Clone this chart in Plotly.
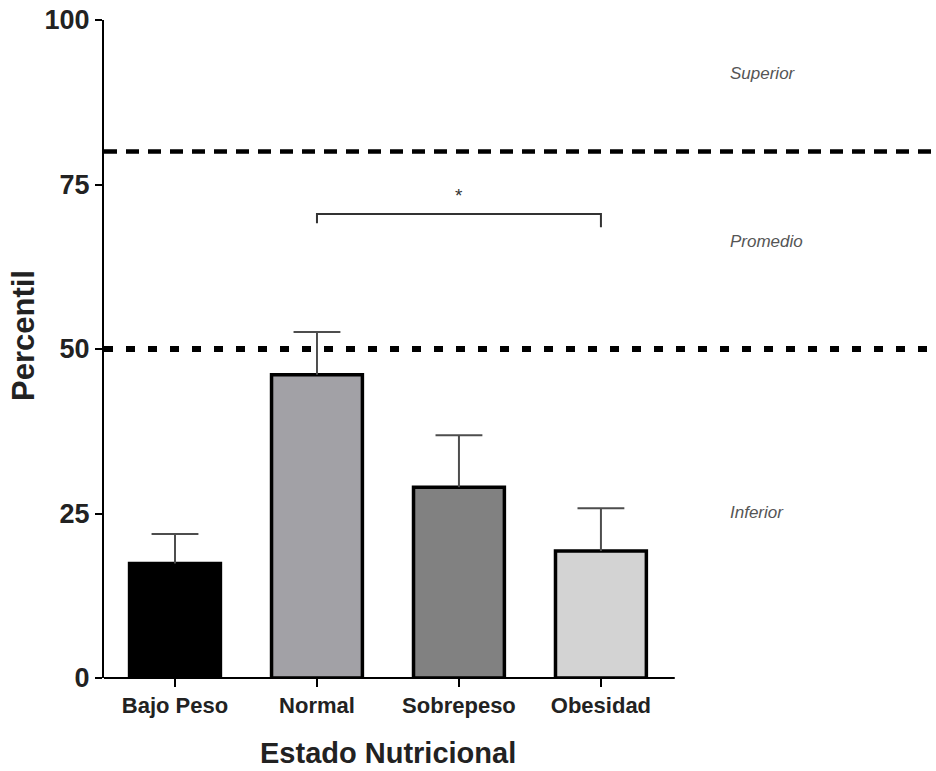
import plotly.graph_objects as go

# Percentile by nutritional status (mean with upper SEM whisker)
categories = ["Bajo Peso", "Normal", "Sobrepeso", "Obesidad"]
means = [17.4, 46.1, 29.0, 19.3]
upper_err = [4.5, 6.5, 7.9, 6.5]
bar_colors = ["#000000", "#a2a1a6", "#818181", "#d3d3d3"]

y_ticks = [0, 25, 50, 75, 100]
upper_cut = 80   # limit between "Promedio" and "Superior"
lower_cut = 50   # limit between "Inferior" and "Promedio"
zone_labels = ["Superior", "Promedio", "Inferior"]
zone_label_y = [91.9, 66.3, 25.1]

# significance bracket between Normal and Obesidad
sig_pair = (1, 3)
sig_level = 70.5
sig_text = "*"

FONT = "Liberation Sans, Arial, sans-serif"
TXT = "#222222"
CAP_HALF = 0.165  # half width of the whisker cap, in category units

x_idx = list(range(len(categories)))

fig = go.Figure()
fig.add_trace(go.Bar(
    x=x_idx,
    y=means,
    width=0.64,
    marker=dict(color=bar_colors, line=dict(color="#000000", width=3.5)),
    showlegend=False,
    hoverinfo="skip",
))

# upper whiskers: stem from the bar top to mean+err, then a horizontal cap
wx, wy = [], []
for i, (m, e) in enumerate(zip(means, upper_err)):
    top = m + e
    wx += [i, i, None, i - CAP_HALF, i + CAP_HALF, None]
    wy += [m, top, None, top, top, None]
fig.add_trace(go.Scatter(
    x=wx, y=wy, mode="lines",
    line=dict(color="#4d4d4d", width=2),
    showlegend=False, hoverinfo="skip",
))

shapes = [
    # dashed cut-off at the 80th percentile
    dict(type="line", xref="paper", yref="y", x0=0, x1=1,
         y0=upper_cut, y1=upper_cut, line=dict(color="#000000", width=4.5, dash="13px,9px"),
         layer="above"),
    # dotted cut-off at the 50th percentile
    dict(type="line", xref="paper", yref="y", x0=0, x1=1,
         y0=lower_cut, y1=lower_cut, line=dict(color="#000000", width=6, dash="9px,13px"),
         layer="above"),
    # x-axis baseline, only under the categories
    dict(type="line", xref="x", yref="paper", x0=-0.5, x1=3.52, y0=0, y1=0,
         line=dict(color="#000000", width=2), layer="above"),
    # significance bracket
    dict(type="path", xref="x", yref="y",
         path=f"M {sig_pair[0]},{sig_level - 1.4} L {sig_pair[0]},{sig_level} "
              f"L {sig_pair[1]},{sig_level} L {sig_pair[1]},{sig_level - 2}",
         line=dict(color="#333333", width=2)),
]

annotations = []
for lab, yv in zip(zone_labels, zone_label_y):
    annotations.append(dict(
        x=3.894, y=yv, xref="x", yref="y", text=lab, showarrow=False,
        xanchor="left", yanchor="middle",
        font=dict(family="Liberation Sans Narrow, Liberation Sans, Arial, sans-serif",
                  size=17, color="#555555", style="italic"),
    ))
annotations.append(dict(
    x=(sig_pair[0] + sig_pair[1]) / 2, y=sig_level + 2.9, xref="x", yref="y",
    text=sig_text, showarrow=False, xanchor="center", yanchor="middle",
    font=dict(family=FONT, size=19, color="#333333"),
))
annotations.append(dict(
    x=1.5, y=-0.114, xref="x", yref="paper", text="<b>Estado Nutricional</b>",
    showarrow=False, xanchor="center", yanchor="middle",
    font=dict(family=FONT, size=29, color=TXT),
))
annotations.append(dict(
    x=-0.096, y=0.52, xref="paper", yref="paper", text="<b>Percentil</b>",
    showarrow=False, xanchor="center", yanchor="middle", textangle=-90,
    font=dict(family=FONT, size=31, color=TXT),
))

fig.update_layout(
    width=936, height=771,
    margin=dict(l=104, r=0, t=20, b=93),
    paper_bgcolor="white", plot_bgcolor="white",
    shapes=shapes, annotations=annotations,
    xaxis=dict(
        range=[-0.5, 5.36],
        tickmode="array", tickvals=x_idx,
        ticktext=[f"<b>{c}</b>" for c in categories],
        ticks="outside", ticklen=8, tickwidth=2, tickcolor="#000000",
        showline=False, showgrid=False, zeroline=False,
        tickfont=dict(family=FONT, size=22, color=TXT),
    ),
    yaxis=dict(
        range=[0, 100],
        tickmode="array", tickvals=y_ticks,
        ticktext=[f"<b>{t}</b>" for t in y_ticks],
        ticks="outside", ticklen=7, tickwidth=2, tickcolor="#000000",
        showline=True, linecolor="#000000", linewidth=2,
        showgrid=False, zeroline=False,
        tickfont=dict(family=FONT, size=27, color=TXT),
    ),
)

fig.write_html("out.html")
